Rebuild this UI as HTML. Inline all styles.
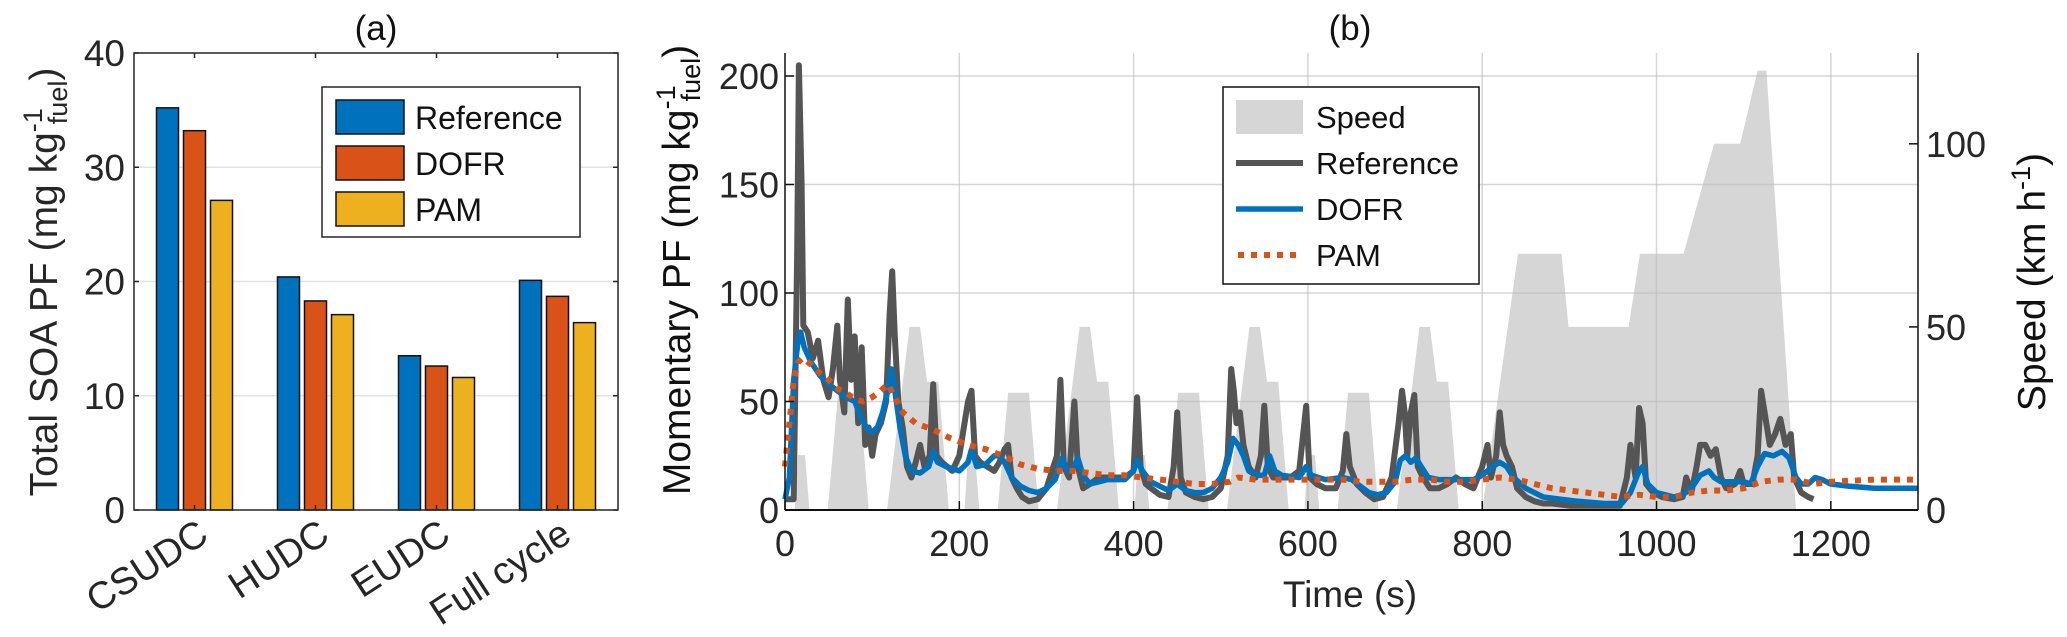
<!DOCTYPE html>
<html><head><meta charset="utf-8">
<style>
html,body{margin:0;padding:0;background:#fff;}
svg{display:block;font-family:"Liberation Sans",sans-serif;}
</style></head>
<body>
<svg id="chart" width="2067" height="637" viewBox="0 0 2067 637" xmlns="http://www.w3.org/2000/svg">
<g id="pa"></g>
<g id="pb"></g>
</svg>
<script>
// ---------- Panel (a) data ----------
const catsA = ["CSUDC","HUDC","EUDC","Full cycle"];
const seriesNamesA = ["Reference","DOFR","PAM"];
const refA  = [35.2, 20.4, 13.5, 20.1];
const dofrA = [33.2, 18.3, 12.6, 18.7];
const pamA  = [27.1, 17.1, 11.6, 16.4];
const yTicksA = [0,10,20,30,40];

// ---------- Panel (b) data ----------
const xTicksB = [0,200,400,600,800,1000,1200];
const yTicksB = [0,50,100,150,200];
const yTicksBR = [0,50,100];
const speedT = [0,11,15,23,28,49,61,85,96,117,143,155,163,176,188,195,
 206,210,218,223,244,256,280,291,312,338,350,358,371,383,390,
 401,405,413,418,439,451,475,486,507,533,545,553,566,578,585,
 596,600,608,613,634,646,670,681,702,728,740,748,761,773,780,
 800,841,891,899,968,981,1031,1066,1096,1116,1126,1160,1180];
const speedV = [0,0,15,15,0,0,32,32,0,0,50,50,35,35,0,0,
 0,15,15,0,0,32,32,0,0,50,50,35,35,0,0,
 0,15,15,0,0,32,32,0,0,50,50,35,35,0,0,
 0,15,15,0,0,32,32,0,0,50,50,35,35,0,0,
 0,70,70,50,50,70,70,100,100,120,120,0,0];
const refT = [0,10,14,16,19,21,26,32,38,44,50,55,60,63,68,72,76,80,84,88,92,96,100,104,110,116,120,123,126,130,135,140,145,150,155,160,166,170,174,180,186,192,200,210,214,218,224,232,240,246,252,256,260,266,272,280,290,300,308,312,316,320,326,332,336,342,350,360,370,380,390,400,404,408,414,420,430,440,446,450,454,460,470,480,490,500,508,512,515,518,522,526,532,540,546,550,554,560,570,580,590,598,602,610,620,632,640,644,648,656,666,676,686,696,704,708,711,714,718,722,726,732,740,750,760,770,780,790,800,806,810,816,820,824,828,834,840,850,860,870,880,900,920,940,958,966,970,976,980,984,988,996,1006,1020,1030,1034,1040,1046,1050,1056,1062,1068,1074,1080,1090,1096,1100,1110,1116,1120,1124,1130,1136,1142,1148,1154,1158,1166,1174,1180];
const refV = [5,5,120,205,150,85,82,70,78,60,52,65,85,60,45,97,60,80,40,75,30,38,25,35,40,50,90,110,80,50,38,20,15,22,30,20,25,58,25,22,20,18,25,50,55,25,22,20,18,22,28,30,15,10,6,4,5,10,20,25,60,20,15,50,20,10,12,15,15,15,15,18,52,20,12,10,7,6,20,45,15,8,6,5,6,10,25,65,55,40,45,30,20,15,25,48,20,15,15,15,18,48,15,12,10,10,18,35,20,12,8,5,6,15,40,55,45,25,45,53,20,15,10,10,12,15,12,10,20,30,15,25,45,30,25,20,10,6,4,3,3,2,2,2,2,15,30,15,47,40,12,8,6,5,6,15,8,20,30,30,25,28,15,10,12,18,12,12,25,55,45,30,35,42,30,35,15,8,6,5];
const dofrT = [0,5,10,15,18,22,30,40,50,60,70,80,88,95,100,106,112,118,122,126,132,138,145,155,165,170,175,185,200,210,214,220,230,240,246,252,260,270,280,290,300,310,318,324,330,336,342,350,360,370,380,390,400,404,410,420,440,450,460,470,480,490,500,508,514,520,526,532,540,550,556,562,570,590,598,604,620,640,650,660,670,680,690,700,706,712,718,724,730,738,750,770,790,800,812,820,828,836,850,870,890,910,940,960,970,980,984,990,1000,1020,1030,1040,1050,1060,1066,1074,1090,1100,1108,1116,1124,1134,1144,1152,1160,1166,1174,1182,1190,1200,1220,1250,1300];
const dofrV = [5,15,60,78,82,75,68,62,58,55,52,50,42,37,36,38,45,55,65,55,38,25,18,17,20,27,22,20,18,22,28,20,21,25,25,22,15,11,9,8,10,14,24,18,18,24,16,12,13,14,14,14,18,23,18,13,9,12,9,8,8,10,15,22,33,30,25,18,16,16,25,18,16,15,20,16,14,15,14,11,8,7,8,13,23,25,22,24,20,15,14,14,14,16,20,22,20,15,10,6,5,4,3,3,8,18,20,12,8,6,7,10,16,18,15,13,13,13,12,20,26,25,27,24,15,12,12,15,14,12,11,10,10];
const pamT = [0,5,10,15,20,30,40,50,60,70,80,90,100,110,118,126,135,150,170,190,210,230,250,270,290,310,330,350,370,390,410,430,450,470,490,510,520,540,560,580,600,620,640,660,680,700,720,740,760,780,800,820,840,860,880,900,920,940,960,980,1000,1020,1040,1060,1080,1100,1120,1140,1160,1180,1200,1250,1300];
const pamV = [20,40,60,68,70,67,63,60,56,54,51,50,52,55,58,52,45,40,37,33,30,28,25,21,19,18,18,17,16,16,15,14,13,12,12,13,15,14,14,14,14,14,14,13,13,13,14,14,13,13,14,15,14,12,10,9,8,7,6,7,6,6,8,9,9,10,13,14,14,12,13,14,14];

const NS="http://www.w3.org/2000/svg";
function mk(parent, tag, attrs, text){
  const e=document.createElementNS(NS,tag);
  for(const k in attrs) e.setAttribute(k,attrs[k]);
  if(text!==undefined) e.textContent=text;
  parent.appendChild(e); return e;
}
const colors=["#0072BD","#D95319","#EDB120"];

// ================= Panel A =================
const pa=document.getElementById('pa');
const AL=134, AR=618, AT=53, AB=510, AMAX=40;
const ay=v=>AB-(v/AMAX)*(AB-AT);
const step=(AR-AL)/catsA.length;
const ax=i=>AL+step*(i+0.5);
yTicksA.forEach(t=>{
  if(t>0&&t<AMAX){const g=mk(pa,'line',{x1:AL,x2:AR,y1:ay(t),y2:ay(t),stroke:'#e3e3e3','stroke-width':1.5});
  
  }
});
const allA=[refA,dofrA,pamA];
allA.forEach((s,si)=>{
  s.forEach((v,i)=>{
    const cx=ax(i)+(si-1)*27;
    const r=mk(pa,'rect',{x:cx-11,y:ay(v),width:22,height:AB-ay(v),fill:colors[si],stroke:'#111','stroke-width':1.5});
    
    
  });
});
const boxA=mk(pa,'rect',{x:AL,y:AT,width:AR-AL,height:AB-AT,fill:'none',stroke:'#262626','stroke-width':1.5});


yTicksA.forEach(t=>{
  mk(pa,'line',{x1:AL,x2:AL+5,y1:ay(t),y2:ay(t),stroke:'#262626','stroke-width':1.5});
  mk(pa,'line',{x1:AR,x2:AR-5,y1:ay(t),y2:ay(t),stroke:'#262626','stroke-width':1.5});
  const tl=mk(pa,'text',{x:AL-9,y:ay(t)+13,'text-anchor':'end','font-size':37,fill:'#262626'},String(t));
  
  
});
catsA.forEach((c,i)=>{
  mk(pa,'line',{x1:ax(i),x2:ax(i),y1:AB,y2:AB-5,stroke:'#262626','stroke-width':1.5});
  mk(pa,'line',{x1:ax(i),x2:ax(i),y1:AT,y2:AT+5,stroke:'#262626','stroke-width':1.5});
  const tl=mk(pa,'text',{x:ax(i)+16,y:AB+30,'text-anchor':'end','font-size':38,fill:'#262626',transform:`rotate(-33 ${ax(i)+16} ${AB+30})`},c);
  
  
});
const ta=mk(pa,'text',{x:376,y:40,'text-anchor':'middle','font-size':35,fill:'#111'},'(a)');


const yla=mk(pa,'text',{x:0,y:0,'text-anchor':'middle','font-size':39,fill:'#262626',transform:'translate(57,282) rotate(-90)'});


yla.innerHTML='Total SOA PF (mg kg<tspan dy="-15" font-size="27">-1</tspan><tspan dx="-16" dy="25" font-size="27">fuel</tspan><tspan dy="-10">)</tspan>';
const lga=mk(pa,'g',{});


mk(lga,'rect',{x:322,y:87,width:258,height:150,fill:'#fff',stroke:'#262626','stroke-width':1.5});
seriesNamesA.forEach((n,i)=>{
  const yy=117+i*46;
  const e=mk(lga,'g',{});
  
  
  mk(e,'rect',{x:336,y:yy-17,width:68,height:34,fill:colors[i],stroke:'#111','stroke-width':1.5});
  mk(e,'text',{x:415,y:yy+12,'font-size':32,fill:'#111'},n);
});

// ================= Panel B =================
const pb=document.getElementById('pb');
const BL=785, BR=1918, BT=53, BB=510, XMAX=1300, YMAX=210.6, YRMAX=124.8;
const bx=t=>BL+(t/XMAX)*(BR-BL);
const by=v=>BB-(v/YMAX)*(BB-BT);
const byr=v=>BB-(v/YRMAX)*(BB-BT);
let d=`M${bx(speedT[0])},${BB}`;
speedT.forEach((t,i)=>{d+=` L${bx(t).toFixed(1)},${byr(speedV[i]).toFixed(1)}`;});
d+=` L${bx(speedT[speedT.length-1])},${BB} Z`;
const sp=mk(pb,'path',{d:d,fill:'#d6d6d6',stroke:'none'});


xTicksB.forEach(t=>{
  if(t>0){const g=mk(pb,'line',{x1:bx(t),x2:bx(t),y1:BT,y2:BB,stroke:'#bbb','stroke-opacity':0.6,'stroke-width':1.5});
  
  }
});
yTicksB.forEach(t=>{
  if(t>0){const g=mk(pb,'line',{x1:BL,x2:BR,y1:by(t),y2:by(t),stroke:'#bbb','stroke-opacity':0.6,'stroke-width':1.5});
  
  }
});
function line(T,V,attrs,name){
  const pts=T.map((t,i)=>`${bx(t).toFixed(1)},${by(V[i]).toFixed(1)}`).join(' ');
  const a=Object.assign({points:pts,fill:'none','stroke-linejoin':'round'},attrs);
  const p=mk(pb,'polyline',a);
  
  
}
line(refT,refV,{stroke:'#555','stroke-width':6},'reference-line');
line(dofrT,dofrV,{stroke:'#0072BD','stroke-width':5.5},'dofr-line');
line(pamT,pamV,{stroke:'#D95319','stroke-width':6,'stroke-dasharray':'6 7'},'pam-line');
mk(pb,'line',{x1:BL,x2:BL,y1:BT,y2:BB,stroke:'#111','stroke-width':1.5});
mk(pb,'line',{x1:BR,x2:BR,y1:BT,y2:BB,stroke:'#111','stroke-width':1.5});
mk(pb,'line',{x1:BL,x2:BR,y1:BB,y2:BB,stroke:'#111','stroke-width':2});
xTicksB.forEach(t=>{
  mk(pb,'line',{x1:bx(t),x2:bx(t),y1:BB,y2:BB-9,stroke:'#111','stroke-width':1.5});
  const tl=mk(pb,'text',{x:bx(t),y:BB+46,'text-anchor':'middle','font-size':36,fill:'#262626'},String(t));
  
  
});
yTicksB.forEach(t=>{
  mk(pb,'line',{x1:BL,x2:BL+9,y1:by(t),y2:by(t),stroke:'#111','stroke-width':1.5});
  const tl=mk(pb,'text',{x:BL-6,y:by(t)+13,'text-anchor':'end','font-size':36,fill:'#262626'},String(t));
  
  
});
yTicksBR.forEach(t=>{
  mk(pb,'line',{x1:BR,x2:BR-9,y1:byr(t),y2:byr(t),stroke:'#111','stroke-width':1.5});
  const tl=mk(pb,'text',{x:BR+8,y:byr(t)+13,'text-anchor':'start','font-size':36,fill:'#262626'},String(t));
  
  
});
const tb=mk(pb,'text',{x:1350,y:40,'text-anchor':'middle','font-size':35,fill:'#111'},'(b)');


const xlb=mk(pb,'text',{x:1350,y:607,'text-anchor':'middle','font-size':37,fill:'#262626'},'Time (s)');


const ylb=mk(pb,'text',{x:0,y:0,'text-anchor':'middle','font-size':39,fill:'#111',transform:'translate(690,270) rotate(-90)'});


ylb.innerHTML='Momentary PF (mg kg<tspan dy="-15" font-size="27">-1</tspan><tspan dx="-16" dy="25" font-size="27">fuel</tspan><tspan dy="-10">)</tspan>';
const ylr=mk(pb,'text',{x:0,y:0,'text-anchor':'middle','font-size':39,fill:'#111',transform:'translate(2045,282) rotate(-90)'});


ylr.innerHTML='Speed (km h<tspan dy="-15" font-size="27">-1</tspan><tspan dy="15">)</tspan>';
const lgb=mk(pb,'g',{});


mk(lgb,'rect',{x:1223,y:87,width:256,height:197,fill:'#fff',stroke:'#111','stroke-width':1.5});
const namesB=["Speed","Reference","DOFR","PAM"];
namesB.forEach((n,i)=>{
  const yy=117+i*46;
  const e=mk(lgb,'g',{});
  
  
  if(i===0) mk(e,'rect',{x:1236,y:yy-17,width:67,height:34,fill:'#d6d6d6'});
  else if(i===1) mk(e,'line',{x1:1236,x2:1303,y1:yy,y2:yy,stroke:'#555','stroke-width':6});
  else if(i===2) mk(e,'line',{x1:1236,x2:1303,y1:yy,y2:yy,stroke:'#0072BD','stroke-width':5.5});
  else mk(e,'line',{x1:1238,x2:1303,y1:yy,y2:yy,stroke:'#D95319','stroke-width':6,'stroke-dasharray':'6 7'});
  mk(e,'text',{x:1316,y:yy+11,'font-size':31,fill:'#111'},n);
});
</script>
</body></html>
